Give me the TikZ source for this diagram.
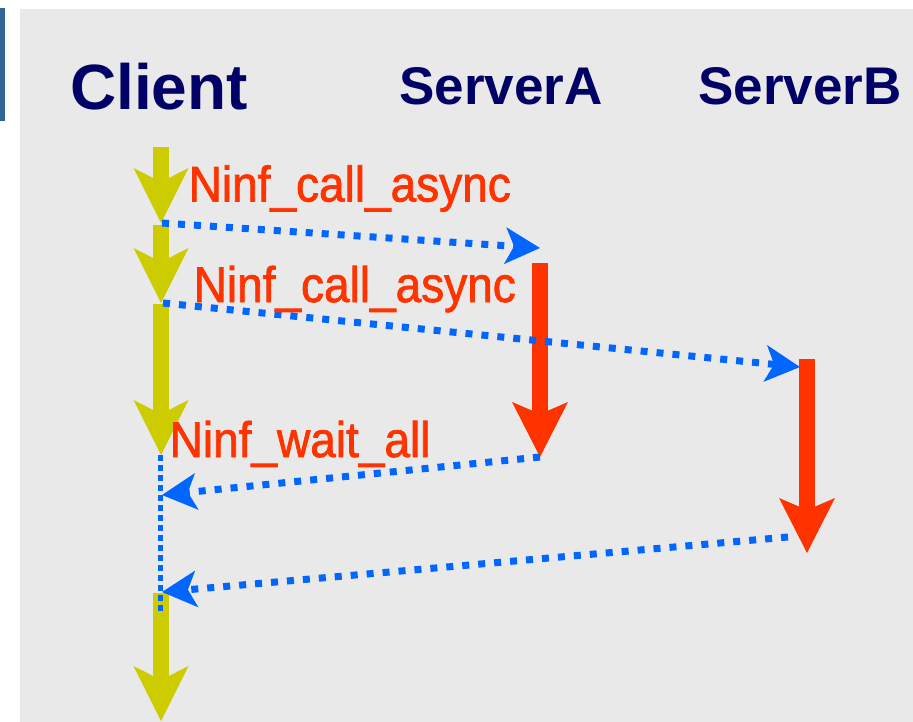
\documentclass[tikz,border=0pt]{standalone}
\usepackage{fontspec}
\setmainfont{Liberation Sans}
\newfontfamily\headfont{Liberation Sans}
\newfontfamily\callfont[FakeStretch=0.92,FakeBold=1.5]{Liberation Sans}
\usetikzlibrary{arrows.meta}
\definecolor{panelgray}{HTML}{E9E9E9}
\definecolor{navy}{HTML}{000066}
\definecolor{callred}{HTML}{FF3300}
\definecolor{msgblue}{HTML}{0066FF}
\definecolor{clientolive}{HTML}{CCCC00}
\definecolor{barblue}{HTML}{306596}
\tikzset{
  clientrun/.style={draw=clientolive, line width=16pt,
    -{Stealth[length=55pt,width=55pt,inset=14pt,line width=0pt]}},
  serverrun/.style={draw=callred, line width=16pt,
    -{Stealth[length=55pt,width=56pt,inset=12pt,line width=0pt]}},
  msg/.style={draw=msgblue, line width=7pt, dash pattern=on 7pt off 9pt,
    -{Stealth[length=35pt,width=37pt,inset=9pt,line width=0pt]}},
  waitline/.style={draw=msgblue, line width=5pt, dash pattern=on 6pt off 4pt},
  headlabel/.style={text=navy, anchor=base west, inner sep=0pt},
  calllabel/.style={text=callred, anchor=base west, inner sep=0pt,
    font=\callfont\fontsize{50}{50}\selectfont},
}
\begin{document}
\begin{tikzpicture}[x=1pt,y=-1pt]
\useasboundingbox (0,0) rectangle (913,722);
% page and panel
\fill[white] (0,0) rectangle (913,722);
\fill[panelgray] (20,9) rectangle (913,722);
\fill[barblue] (0,8) rectangle (5,121);

% column headings
\node[headlabel, font=\headfont\bfseries\fontsize{64}{64}\selectfont] (client) at (70,110) {Client};
\node[headlabel, font=\headfont\bfseries\fontsize{53}{53}\selectfont] (srvA) at (399,105) {ServerA};
\node[headlabel, font=\headfont\bfseries\fontsize{53}{53}\selectfont] (srvB) at (698,105) {ServerB};

% lifeline points
\coordinate (c0) at (161,147);
\coordinate (c1) at (161,223);
\coordinate (c1s) at (161,225);
\coordinate (c2) at (161,303);
\coordinate (c2s) at (161,304);
\coordinate (c3) at (161,455);
\coordinate (c4s) at (161,593);
\coordinate (c4) at (161,721);
\coordinate (a0) at (540,263);
\coordinate (a1) at (540,457);
\coordinate (b0) at (807,359);
\coordinate (b1) at (807,553);

% client activity
\draw[clientrun] (c0) -- (c1);
\draw[clientrun] (c1s) -- (c2);
\draw[clientrun] (c2s) -- (c3);
\draw[clientrun] (c4s) -- (c4);

% server activity
\draw[serverrun] (a0) -- (a1);
\draw[serverrun] (b0) -- (b1);

% waiting on the client
\coordinate (w0) at (160,455);
\coordinate (w1) at (160,612);
\draw[waitline] (w0) -- (w1);

% messages
\coordinate (m1s) at (162,223);
\coordinate (m1e) at (540,248);
\coordinate (m2s) at (163,303);
\coordinate (m2e) at (800,367);
\coordinate (m3e) at (162,495);
\coordinate (m4s) at (788,537);
\coordinate (m4e) at (162,592);
\draw[msg] (m1s) -- (m1e);
\draw[msg] (m2s) -- (m2e);
\draw[msg] (a1) -- (m3e);
\draw[msg] (m4s) -- (m4e);

% call labels
\node[calllabel] (call1) at (188.5,201.5) {Ninf\_call\_async};
\node[calllabel] (call2) at (193.5,302) {Ninf\_call\_async};
\node[calllabel] (waitall) at (169.5,457) {Ninf\_wait\_all};
\end{tikzpicture}
\end{document}
